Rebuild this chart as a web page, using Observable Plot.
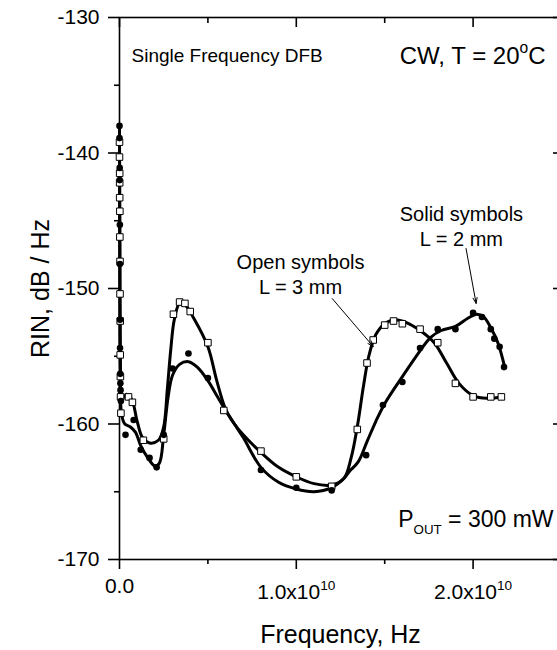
<!DOCTYPE html>
<html><head><meta charset="utf-8">
<script src="https://cdn.jsdelivr.net/npm/d3@7"></script>
<script src="https://cdn.jsdelivr.net/npm/@observablehq/plot@0.6"></script>
<style>
body{margin:0;background:#fff;}
svg{font-family:"Liberation Sans",Arial,sans-serif;}
</style>
</head><body><div id="chart"></div>
<script>
// ---- data (frequency in units of 1e10 Hz, RIN in dB/Hz) ----
const openSymFreq = [0.000,0.000,0.001,0.001,0.001,0.002,0.002,0.003,0.003,0.004,0.004,0.005,0.006,0.008,
  0.051,0.073,0.135,0.25,0.305,0.34,0.37,0.40,0.50,0.59,0.80,1.0,1.2,1.345,1.40,1.435,1.50,1.55,1.60,1.70,1.80,1.90,2.0,2.10,2.16];
const openSymRin = [-139.2,-140.3,-141.5,-142.2,-143.3,-144.3,-146.2,-148.0,-150.4,-152.4,-154.9,-156.5,-158.0,-159.2,
  -158.0,-158.4,-161.2,-161.1,-151.9,-151.0,-151.1,-151.7,-154.0,-159.0,-162.0,-163.9,-164.6,-160.4,-155.5,-153.8,-152.7,-152.4,-152.6,-153.0,-154.0,-157.0,-158.0,-158.0,-158.0];

const solidSymFreq = [0.000,0.000,0.001,0.001,0.002,0.002,0.003,0.003,0.004,0.005,0.006,0.008,
  0.034,0.08,0.12,0.17,0.21,0.25,0.30,0.39,0.50,0.80,1.0,1.2,1.395,1.49,1.60,1.70,1.80,1.90,2.0,2.05,2.10,2.12,2.15,2.175];
const solidSymRin = [-138.0,-138.9,-141.1,-142.0,-145.3,-148.2,-152.3,-154.4,-156.3,-157.0,-157.5,-158.3,
  -160.8,-159.7,-161.9,-162.5,-163.2,-160.8,-155.9,-154.8,-156.6,-163.4,-164.7,-164.9,-162.3,-158.6,-156.9,-154.4,-153.0,-153.0,-151.8,-152.1,-153.0,-153.7,-154.3,-155.8];

const openFitFreq = [0,0.002,0.005,0.012,0.04,0.07,0.10,0.13,0.17,0.22,0.25,0.27,0.29,0.31,0.34,0.37,0.42,0.50,0.55,0.60,0.65,0.70,0.80,0.90,1.0,1.1,1.2,1.27,1.31,1.345,1.38,1.41,1.45,1.50,1.56,1.62,1.70,1.78,1.85,1.92,2.0,2.08,2.16];
const openFitRin = [-139.0,-148,-156,-158.2,-157.8,-158.2,-159.8,-161.0,-161.4,-161.2,-160.2,-157.5,-154.5,-152.3,-151.1,-151.2,-152.2,-154.3,-156.8,-158.9,-160.0,-160.8,-162.1,-163.2,-163.9,-164.4,-164.5,-164.0,-162.5,-160.2,-157.2,-155.0,-153.4,-152.6,-152.3,-152.5,-153.1,-154.0,-155.5,-157.0,-157.9,-158.1,-158.0];

const solidFitFreq = [0,0.002,0.005,0.012,0.03,0.06,0.09,0.12,0.16,0.20,0.225,0.25,0.275,0.30,0.34,0.39,0.44,0.50,0.55,0.60,0.65,0.70,0.80,0.90,1.0,1.1,1.2,1.27,1.30,1.35,1.40,1.45,1.50,1.60,1.70,1.76,1.82,1.90,1.97,2.02,2.06,2.10,2.14,2.175];
const solidFitRin = [-138.0,-148,-156,-159.3,-160.0,-160.2,-160.6,-161.6,-162.5,-163.1,-162.9,-160.8,-158.0,-156.4,-155.6,-155.4,-155.8,-156.8,-157.9,-159.0,-160.0,-161.0,-163.2,-164.3,-164.8,-165.0,-164.7,-164.0,-163.5,-162.8,-161.3,-159.8,-158.5,-156.5,-154.6,-153.6,-153.1,-152.8,-152.2,-151.9,-152.1,-152.9,-154.0,-155.6];

const yMajorTicks = [-170,-160,-150,-140,-130];
const yMinorTicks = [-165,-155,-145,-135];
const xMajorTicks = [0,1,2];
const xMinorTicks = [0.5,1.5];
const xTickLabels = ["0.0","1.0x10^{10}","2.0x10^{10}"];

const annotations = [
  {x:0.068, y:-133.25, text:"Single Frequency DFB", size:19, anchor:"start"},
  {x:2.41,  y:-133.4,  text:"CW, T = 20^{o}C", size:24, anchor:"end"},
  {x:2.455, y:-167.57, text:"P_{OUT} = 300 mW", size:23, anchor:"end"},
  {x:1.024, y:-150.37, text:"Open symbols\nL = 3 mm", size:20, anchor:"middle"},
  {x:1.934, y:-146.83, text:"Solid symbols\nL = 2 mm", size:20, anchor:"middle"}
];
const arrows = [
  {x1:1.203, y1:-150.74, x2:1.435, y2:-154.28},
  {x1:1.96,  y1:-147.05, x2:2.017, y2:-151.1}
];

// ---- tables ----
const E = 1e10;
const table = (fs, rs) => fs.map((f, i) => ({f: f * E, rin: rs[i]}));
const openSym = table(openSymFreq, openSymRin);
const solidSym = table(solidSymFreq, solidSymRin);
const openFit = table(openFitFreq, openFitRin);
const solidFit = table(solidFitFreq, solidFitRin);

const chart = Plot.plot({
  width: 557, height: 650,
  marginLeft: 119, marginRight: -4, marginTop: 17, marginBottom: 91,
  x: {domain: [0, 2.5 * E]},
  y: {domain: [-170, -130]},
  marks: [
    Plot.frame({strokeWidth: 1.6}),
    Plot.axisY({ticks: yMajorTicks, tickSize: 11, tickPadding: 9, fontSize: 21, strokeWidth: 1.6, tickFormat: d => String(d), label: null}),
    Plot.axisY({ticks: yMinorTicks, tickSize: 5, strokeWidth: 1.6, tickFormat: () => "", label: null}),
    Plot.axisY({anchor: "right", ticks: yMajorTicks, tickSize: -9, strokeWidth: 1.6, tickFormat: () => "", label: null}),
    Plot.axisY({anchor: "right", ticks: yMinorTicks, tickSize: -5, strokeWidth: 1.6, tickFormat: () => "", label: null}),
    Plot.axisX({ticks: xMajorTicks.map(d => d * E), tickSize: 10, tickPadding: 9, fontSize: 21, strokeWidth: 1.6,
      tickFormat: d => xTickLabels[xMajorTicks.indexOf(Math.round(d / E * 10) / 10)], label: null}),
    Plot.axisX({ticks: xMinorTicks.map(d => d * E), tickSize: 5, strokeWidth: 1.6, tickFormat: () => "", label: null}),
    Plot.axisX({anchor: "top", ticks: xMajorTicks.map(d => d * E), tickSize: -9, strokeWidth: 1.6, tickFormat: () => "", label: null}),
    Plot.axisX({anchor: "top", ticks: xMinorTicks.map(d => d * E), tickSize: -5, strokeWidth: 1.6, tickFormat: () => "", label: null}),
    Plot.text(["RIN, dB / Hz"], {frameAnchor: "left", dx: -79, rotate: -90, textAnchor: "middle", lineAnchor: "middle", fontSize: 25}),
    Plot.text(["Frequency, Hz"], {frameAnchor: "bottom", dy: 83, textAnchor: "middle", lineAnchor: "bottom", fontSize: 25}),
    Plot.line(openFit, {x: "f", y: "rin", curve: "catmull-rom", stroke: "black", strokeWidth: 3}),
    Plot.line(solidFit, {x: "f", y: "rin", curve: "catmull-rom", stroke: "black", strokeWidth: 3}),
    Plot.dot(openSym, {x: "f", y: "rin", symbol: "square", r: 3.7, fill: "white", stroke: "black", strokeWidth: 1}),
    Plot.dot(solidSym, {x: "f", y: "rin", r: 3.3, fill: "black", stroke: "none"}),
    Plot.arrow(arrows, {x1: d => d.x1 * E, y1: "y1", x2: d => d.x2 * E, y2: "y2", stroke: "black", strokeWidth: 1, headLength: 9, headAngle: 40}),
    ...annotations.map(a => Plot.text([a], {x: d => d.x * E, y: "y", text: "text", fontSize: a.size, textAnchor: a.anchor, lineAnchor: "bottom", lineHeight: 1.25, fill: "black"}))
  ]
});
document.getElementById("chart").append(chart);

// ---- rich text: ^{sup} and _{sub} ----
function richify(el, shiftFirst) {
  const s = el.textContent;
  if (!/[\^_]\{/.test(s)) return;
  const fs = parseFloat(getComputedStyle(el).fontSize);
  while (el.firstChild) el.removeChild(el.firstChild);
  const ns = "http://www.w3.org/2000/svg";
  const add = (txt, size, dy) => {
    const t = document.createElementNS(ns, "tspan");
    if (size) t.setAttribute("font-size", size);
    if (dy) t.setAttribute("dy", dy);
    t.textContent = txt;
    el.appendChild(t);
  };
  const re = /([\^_])\{([^}]*)\}/g;
  let last = 0, m, pending = shiftFirst || 0;
  while ((m = re.exec(s))) {
    if (m.index > last) { add(s.slice(last, m.index), null, pending); pending = 0; }
    const sup = m[1] === "^";
    const shift = sup ? -0.43 * fs : 0.33 * fs;
    add(m[2], (sup ? 0.65 : 0.58) * fs, pending + shift);
    pending = -shift;
    last = re.lastIndex;
  }
  if (last < s.length) add(s.slice(last), null, pending);
}
d3.select(chart).selectAll("text").each(function() {
  const s = this.textContent;
  richify(this, /x10\^/.test(s) ? 6 : 0);
});
</script></body></html>
